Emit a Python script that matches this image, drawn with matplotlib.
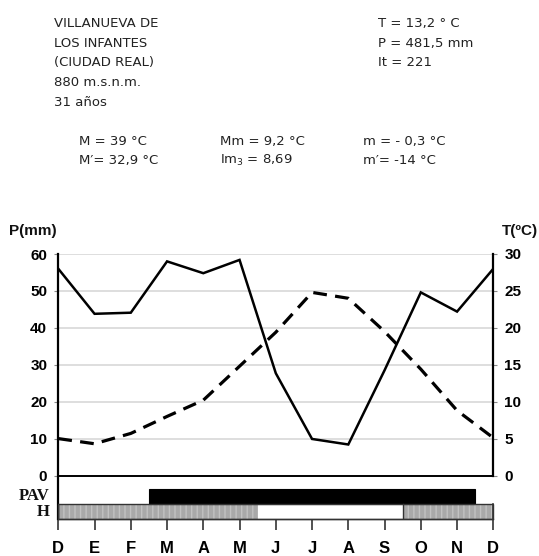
import matplotlib
matplotlib.use("Agg")
import matplotlib.pyplot as plt
from matplotlib.patches import Rectangle

# ---- data ----
months = ["D", "E", "F", "M", "A", "M", "J", "J", "A", "S", "O", "N", "D"]
precip = [56.0, 43.8, 44.1, 58.0, 54.8, 58.4, 27.7, 9.9, 8.4, 28.5, 49.6, 44.4, 56.0]
temp = [5.0, 4.3, 5.7, 8.0, 10.2, 14.8, 19.4, 24.8, 24.0, 19.5, 14.4, 8.8, 5.1]
p_ticks = [0, 10, 20, 30, 40, 50, 60]
t_ticks = [0, 5, 10, 15, 20, 25, 30]
pav_start, pav_end = 2.5, 11.5
h_periods = [(0.0, 5.5), (9.5, 12.0)]

W, H = 539, 556
fig = plt.figure(figsize=(W / 100, H / 100), dpi=100)

def fx(px):
    return px / W

def fy(py):
    return 1 - py / H

# ---- header texts ----
tfont = dict(family="DejaVu Sans", fontsize=9.5, color="#222222", va="baseline")
left_lines = ["VILLANUEVA DE", "LOS INFANTES", "(CIUDAD REAL)", "880 m.s.n.m.", "31 años"]
for i, s in enumerate(left_lines):
    fig.text(fx(54), fy(27 + 19.7 * i), s, **tfont)
right_lines = ["T = 13,2 ° C", "P = 481,5 mm", "It = 221"]
for i, s in enumerate(right_lines):
    fig.text(fx(378), fy(27 + 19.7 * i), s, **tfont)
row1 = ["M = 39 °C", "Mm = 9,2 °C", "m = - 0,3 °C"]
row2 = ["M′= 32,9 °C", "Im$_3$ = 8,69", "m′= -14 °C"]
cols = [79, 220, 363]
for c, s in zip(cols, row1):
    fig.text(fx(c), fy(145), s, **tfont)
for c, s in zip(cols, row2):
    fig.text(fx(c), fy(164), s, **tfont)

# ---- axes ----
left, right, top, bottom = 58.3, 493.3, 254.0, 518.7
ax = fig.add_axes([fx(left), fy(bottom), (right - left) / W, (bottom - top) / H])
ymin = -11.7
ax.set_xlim(0, 12)
ax.set_ylim(ymin, 60)

for y in p_ticks[1:]:
    ax.axhline(y, color="#d4d4d4", lw=1.1, zorder=0)
ax.axhline(0, color="black", lw=1.4, zorder=3)

ax.plot(range(13), precip, color="black", lw=1.8, solid_joinstyle="miter", zorder=4)

ax.spines["top"].set_visible(False)
ax.spines["right"].set_visible(False)
ax.spines["left"].set_linewidth(1.6)
ax.spines["bottom"].set_linewidth(1.0)
ax.spines["bottom"].set_color("#333333")

ax.set_yticks(p_ticks)
ax.set_yticklabels([str(v) for v in p_ticks])
ax.tick_params(axis="y", direction="out", length=3, width=0.8, color="#888888", pad=5,
               labelsize=11)
for lab in ax.get_yticklabels():
    lab.set_fontfamily("Liberation Sans")
    lab.set_fontweight("bold")

ax.set_xticks(range(13))
ax.set_xticklabels(months)
ax.tick_params(axis="x", direction="out", length=8, width=1.2, color="#333333", pad=8,
               labelsize=12)
for lab in ax.get_xticklabels():
    lab.set_fontfamily("Liberation Sans")
    lab.set_fontweight("bold")

# PAV bar
y_pav_top = -3.58
y_h_top = -7.72
ax.add_patch(Rectangle((pav_start, y_h_top), pav_end - pav_start, y_pav_top - y_h_top,
                       facecolor="black", edgecolor="black", lw=0.8, zorder=3))
# H band
for a, b in h_periods:
    ax.add_patch(Rectangle((a, ymin), b - a, y_h_top - ymin, facecolor="#a9a9a9",
                           edgecolor="none", lw=0, zorder=2))
    ax.add_patch(Rectangle((a, ymin), b - a, y_h_top - ymin, facecolor="none",
                           edgecolor="#c2c2c2", hatch="|||", lw=0, zorder=2))
    ax.plot([a, a], [ymin, y_h_top], color="#333333", lw=1.0, zorder=3)
ax.add_patch(Rectangle((0, ymin), 12, y_h_top - ymin, facecolor="none",
                       edgecolor="#333333", lw=1.0, zorder=3, clip_on=False))

# ---- twin axis for temperature ----
ax2 = ax.twinx()
ax2.set_ylim(ymin / 2, 30)
ax2.plot(range(13), temp, color="black", lw=2.3, dashes=(4.3, 2.6), zorder=4)
for s in ["top", "left", "bottom"]:
    ax2.spines[s].set_visible(False)
ax2.spines["right"].set_bounds(0, 30)
ax2.spines["right"].set_linewidth(1.6)
ax2.set_yticks(t_ticks)
ax2.set_yticklabels([str(v) for v in t_ticks])
ax2.tick_params(axis="y", direction="out", length=3, width=0.8, color="#888888", pad=5,
                labelsize=11)
for lab in ax2.get_yticklabels():
    lab.set_fontfamily("Liberation Sans")
    lab.set_fontweight("bold")
# right edge of H band
ax.plot([12, 12], [ymin, y_h_top], color="#333333", lw=1.2, zorder=3, clip_on=False)

# ---- labels ----
lab_font = dict(family="Liberation Sans", fontweight="bold", fontsize=11, color="#111111")
fig.text(fx(9), fy(231), "P(mm)", ha="left", va="center", **lab_font)
fig.text(fx(538), fy(231), "T(ºC)", ha="right", va="center", **lab_font)

serif = dict(family="Liberation Serif", fontweight="bold", fontsize=12, color="#111111")
fig.text(fx(49.5), fy(495.5), "PAV", ha="right", va="center", **serif)
fig.text(fx(49.5), fy(511.5), "H", ha="right", va="center", **serif)

fig.savefig("out.png", dpi=100)
